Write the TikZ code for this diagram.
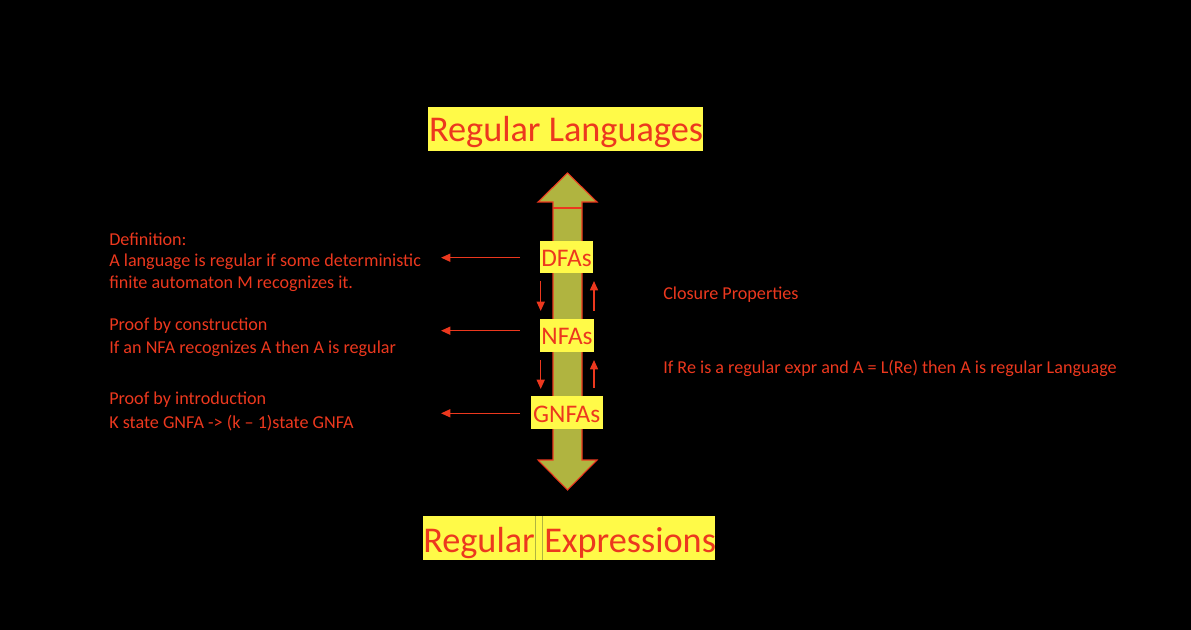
\documentclass[tikz,border=0pt]{standalone}
\usepackage{fontspec}
\setmainfont{Carlito}
\usetikzlibrary{arrows.meta}
\definecolor{txtred}{RGB}{236,56,30}
\definecolor{boxyel}{RGB}{255,250,72}
\definecolor{olive}{RGB}{176,180,64}
\tikzset{
  pic/.style={x=0.75pt,y=-0.75pt},
  ytext/.style={text=txtred,inner sep=0pt,anchor=base},
  lbl/.style={text=txtred,inner sep=0pt,anchor=base west,font=\fontsize{13.6}{16}\selectfont},
  redarr/.style={draw=txtred,line width=1.1pt,-{Triangle[length=7pt,width=6pt]}},
  auto/.style={ytext,font=\fontsize{19}{21}\selectfont},
}
\begin{document}
\begin{tikzpicture}[pic]
\fill[black] (0,0) rectangle (1191,630);
\useasboundingbox (0,0) rectangle (1191,630);
% big double arrow
\draw[fill=olive,draw=txtred,line width=0.8pt]
  (567.5,173) -- (597,202) -- (582,202) -- (582,460) -- (597,460) -- (567.5,490)
  -- (538,460) -- (553,460) -- (553,202) -- (538,202) -- cycle;
\draw[txtred,line width=0.8pt] (553,208) -- (582,208);
% title boxes
\fill[boxyel] (428,107) rectangle (703,151);
\node[ytext,font=\fontsize{27.2}{30}\selectfont] (rl) at (566,141.7) {Regular Languages};
\fill[boxyel] (423,516) rectangle (715,560);
\draw[olive,line width=0.6pt] (535,516) -- (535,560) (542,516) -- (542,560);
\node[ytext,anchor=base west,font=\fontsize{27.2}{30}\selectfont] (re1) at (423,552.7) {Regular};
\node[ytext,anchor=base west,font=\fontsize{27.2}{30}\selectfont] (re2) at (544,552.7) {Expressions};
% automata boxes
\fill[boxyel] (540,241) rectangle (593,273);
\node[auto] (dfa) at (566.5,266.7) {DFAs};
\fill[boxyel] (540,319) rectangle (594,352);
\node[auto] (nfa) at (567,345) {NFAs};
\fill[boxyel] (531,396) rectangle (603,429);
\node[auto] (gnfa) at (566.7,422.3) {GNFAs};
% small arrows
\coordinate (d1a) at (540.7,281); \coordinate (d1b) at (540.7,311);
\coordinate (d2a) at (540.7,360); \coordinate (d2b) at (540.7,389);
\coordinate (u1a) at (594,311); \coordinate (u1b) at (594,281);
\coordinate (u2a) at (594,388); \coordinate (u2b) at (594,360);
\draw[redarr] (d1a) -- (d1b);
\draw[redarr] (d2a) -- (d2b);
\draw[redarr] (u1a) -- (u1b);
\draw[redarr] (u2a) -- (u2b);
% left arrows
\coordinate (la1) at (520,257.7); \coordinate (lb1) at (441,257.7);
\coordinate (la2) at (520,330.7); \coordinate (lb2) at (441,330.7);
\coordinate (la3) at (520,413.3); \coordinate (lb3) at (441,413.3);
\draw[redarr] (la1) -- (lb1);
\draw[redarr] (la2) -- (lb2);
\draw[redarr] (la3) -- (lb3);
% left texts
\node[lbl] (t1) at (109,245.7) {Definition:};
\node[lbl] (t2) at (109,266.7) {A language is regular if some deterministic};
\node[lbl] (t3) at (109,288.3) {finite automaton M recognizes it.};
\node[lbl] (t4) at (109,331) {Proof by construction};
\node[lbl] (t5) at (109,353.3) {If an NFA recognizes A then A is regular};
\node[lbl] (t6) at (109,405) {Proof by introduction};
\node[lbl] (t7) at (109,428.3) {K state GNFA -> (k – 1)state GNFA};
% right texts
\node[lbl] (r1) at (663,300) {Closure Properties};
\node[lbl] (r2) at (663,373.3) {If Re is a regular expr and A = L(Re) then A is regular Language};
\end{tikzpicture}
\end{document}
